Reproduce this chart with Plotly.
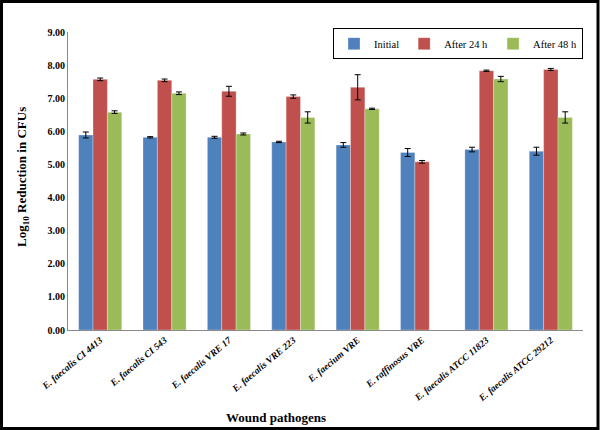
import plotly.graph_objects as go

categories = ["E. faecalis CI 4413", "E. faecalis CI 543", "E. faecalis VRE 17",
              "E. faecalis VRE 223", "E. faecium VRE", "E. raffinosus VRE",
              "E. faecalis ATCC 11823", "E. faecalis ATCC 29212"]
initial = [5.89, 5.82, 5.82, 5.68, 5.59, 5.36, 5.45, 5.40]
initial_err = [0.09, 0.02, 0.03, 0.02, 0.07, 0.12, 0.07, 0.12]
after24 = [7.57, 7.54, 7.21, 7.05, 7.33, 5.08, 7.83, 7.87]
after24_err = [0.04, 0.04, 0.15, 0.05, 0.38, 0.04, 0.02, 0.03]
after48 = [6.58, 7.15, 5.92, 6.42, 6.68, None, 7.58, 6.42]
after48_err = [0.04, 0.04, 0.03, 0.17, 0.02, 0, 0.08, 0.17]
series_names = ["Initial", "After 24 h", "After 48 h"]
colors = ["#4F81BD", "#C0504D", "#9BBB59"]

FONT = "Liberation Serif, Times New Roman, serif"

fig = go.Figure()
for name, vals, errs, col in zip(series_names, [initial, after24, after48],
                                 [initial_err, after24_err, after48_err], colors):
    fig.add_trace(go.Bar(
        x=categories, y=vals, name=name,
        marker=dict(color=col, line=dict(color="rgba(255,255,255,0.6)", width=0.5)),
        error_y=dict(type="data", array=errs, color="black", thickness=1, width=3),
    ))

fig.update_layout(
    width=600, height=430,
    barmode="group", bargap=0.33, bargroupgap=0,
    margin=dict(l=68, r=17, t=32, b=100, autoexpand=False),
    paper_bgcolor="white", plot_bgcolor="white",
    font=dict(family=FONT, color="black"),
    showlegend=True,
    legend=dict(orientation="h", x=1.0, y=1.013, xanchor="right", yanchor="top",
                bordercolor="black", borderwidth=1, bgcolor="white",
                font=dict(family=FONT, size=10.5, color="black"),
                itemwidth=30, tracegroupgap=0),
    xaxis=dict(showline=True, linecolor="#898989", linewidth=1, ticks="",
               tickangle=-40, showgrid=False, automargin=False,
               tickfont=dict(family=FONT, size=9.5, color="black", style="italic", weight="bold")),
    yaxis=dict(range=[0, 9], dtick=1, tickformat=".2f", showline=True, automargin=False,
               linecolor="#898989", linewidth=1, ticks="", showgrid=False,
               zeroline=False,
               tickfont=dict(family=FONT, size=10, color="black", weight="bold")),
    annotations=[
        dict(text="<b>Wound pathogens</b>", xref="paper", yref="paper",
             x=(276 - 68) / 515, y=(330 - 417) / 298, xanchor="center", yanchor="middle",
             showarrow=False, font=dict(family=FONT, size=13, color="black")),
        dict(text="<b>Log<sub>10</sub> Reduction in CFUs</b>", xref="paper", yref="paper",
             x=(22 - 68) / 515, y=(330 - 177) / 298, xanchor="center", yanchor="middle",
             textangle=-90, showarrow=False, font=dict(family=FONT, size=13, color="black")),
    ],
    shapes=[dict(type="rect", xref="paper", yref="paper",
                 x0=(1.5 - 68) / 515, x1=(598 - 68) / 515,
                 y0=(330 - 428.5) / 298, y1=(330 - 1.5) / 298,
                 line=dict(color="black", width=3), fillcolor="rgba(0,0,0,0)", layer="above")],
)

fig.write_html("out.html", config={"displayModeBar": False},
               post_script="document.body.style.margin='0';document.body.style.overflow='hidden';")
